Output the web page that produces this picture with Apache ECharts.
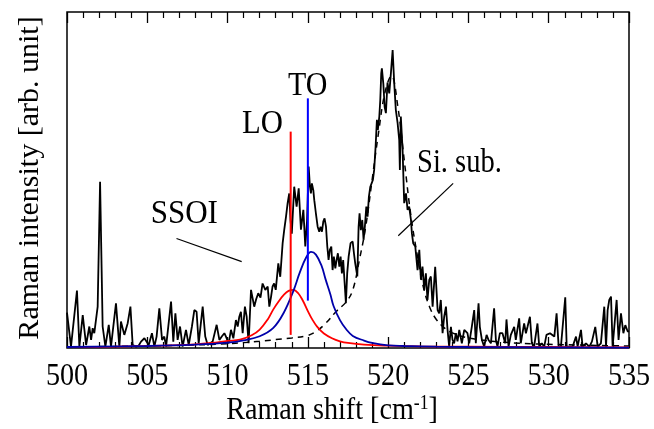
<!DOCTYPE html>
<html><head><meta charset="utf-8">
<script src="https://cdn.jsdelivr.net/npm/echarts@6/dist/echarts.min.js"></script>
<style>html,body{margin:0;padding:0;background:#fff}#c{width:654px;height:429px}</style>
</head><body><div id="c"></div>
<script>
// ---- data (Raman shift in cm^-1, intensity in arb. unit 0..100) ----
const rawSpectrum = [
[500.00,10.5],[500.04,10.8],[500.25,0.4],[500.62,17.1],[500.77,0.4],[500.98,9.8],[501.08,9.3],[501.19,0.9],
[501.39,6.4],[501.50,2.4],[501.60,5.9],[501.70,4.4],[501.91,12.3],[502.06,49.5],[502.22,6.4],[502.39,0.4],
[502.60,6.9],[502.74,0.4],[503.05,13.3],[503.26,0.4],[503.36,7.9],[503.57,3.9],[503.78,7.4],[503.95,12.3],
[504.09,0.9],[504.30,0.4],[504.45,0.6],[504.61,1.9],[504.82,2.9],[504.92,2.4],[505.09,0.9],[505.29,4.4],
[505.44,0.4],[505.58,3.4],[505.75,11.8],[505.92,2.4],[506.06,3.4],[506.17,0.4],[506.48,13.8],[506.62,1.9],
[506.75,10.3],[506.89,2.4],[507.04,6.4],[507.20,0.4],[507.41,5.4],[507.58,0.9],[507.78,6.4],[507.93,11.3],
[508.07,10.8],[508.20,1.4],[508.45,12.3],[508.61,3.4],[508.76,0.9],[509.07,1.9],[509.32,6.9],[509.49,2.4],
[509.65,3.5],[509.80,4.4],[509.90,3.4],[510.07,1.4],[510.21,5.4],[510.36,2.9],[510.52,8.3],[510.63,6.4],
[510.73,9.3],[510.83,10.8],[510.94,4.4],[511.08,12.3],[511.19,9.3],[511.31,1.4],[511.46,17.3],[511.66,12.3],
[511.78,14.5],[511.91,16.3],[512.05,15.0],[512.18,19.2],[512.35,17.3],[512.50,18.3],[512.60,12.3],[512.70,15.0],
[512.80,18.3],[512.90,19.2],[513.00,17.3],[513.16,25.2],[513.28,21.2],[513.43,31.2],[513.53,35.2],[513.64,39.1],
[513.74,43.1],[513.84,46.0],[513.92,38.0],[514.00,34.0],[514.15,48.0],[514.30,42.1],[514.43,47.5],[514.57,35.2],
[514.72,41.1],[514.84,30.2],[514.95,38.0],[515.05,54.0],[515.13,48.0],[515.19,46.0],[515.25,49.0],[515.34,47.0],
[515.40,44.0],[515.50,40.1],[515.61,36.1],[515.71,34.6],[515.79,36.1],[515.88,34.6],[515.96,37.6],[516.04,38.6],
[516.13,36.1],[516.21,30.2],[516.29,26.2],[516.37,29.2],[516.46,30.2],[516.54,23.2],[516.62,27.2],[516.71,23.7],
[516.79,26.2],[516.87,28.2],[516.96,24.2],[517.04,27.2],[517.12,22.2],[517.20,26.2],[517.29,26.2],[517.37,13.3],
[517.45,22.2],[517.54,27.2],[517.66,31.2],[517.79,31.7],[517.87,28.2],[517.95,25.2],[518.08,21.3],[518.16,36.1],
[518.22,40.1],[518.30,35.1],[518.39,38.1],[518.47,32.2],[518.55,36.1],[518.64,42.1],[518.72,39.1],[518.80,45.0],
[518.89,48.0],[518.97,49.0],[519.05,50.0],[519.13,53.0],[519.22,60.0],[519.30,67.9],[519.36,64.9],[519.45,68.9],
[519.51,73.8],[519.57,81.7],[519.61,83.2],[519.70,78.7],[519.78,71.8],[519.86,69.9],[519.96,79.0],[520.07,75.8],
[520.17,81.7],[520.28,88.7],[520.38,78.7],[520.48,70.8],[520.59,66.9],[520.69,61.9],[520.73,53.0],[520.79,68.9],
[520.90,58.9],[521.00,43.1],[521.11,46.0],[521.21,41.1],[521.31,42.1],[521.42,38.1],[521.48,34.1],[521.56,31.2],
[521.69,30.2],[521.83,23.2],[521.94,29.2],[522.04,20.3],[522.14,24.2],[522.25,17.3],[522.35,22.2],[522.45,14.3],
[522.56,20.3],[522.66,21.3],[522.77,12.3],[522.93,24.2],[523.08,11.3],[523.18,10.3],[523.28,14.3],[523.39,4.4],
[523.49,9.3],[523.60,12.3],[523.70,5.4],[523.80,0.4],[523.91,6.3],[524.01,2.4],[524.11,1.4],[524.22,4.4],
[524.32,2.0],[524.43,5.4],[524.59,1.4],[524.74,5.4],[524.84,4.9],[524.94,4.4],[525.05,1.4],[525.21,6.3],
[525.36,11.3],[525.46,1.4],[525.63,13.3],[525.71,6.3],[525.84,2.4],[525.98,0.4],[526.13,3.9],[526.25,2.4],
[526.40,1.4],[526.60,11.8],[526.71,2.4],[526.81,0.4],[526.96,4.4],[527.12,4.4],[527.29,1.4],[527.37,8.5],
[527.50,0.4],[527.64,3.9],[527.75,4.4],[527.85,6.3],[527.95,2.4],[528.16,8.8],[528.26,1.4],[528.47,7.3],
[528.58,4.4],[528.68,6.3],[528.83,9.3],[528.95,1.4],[529.09,0.4],[529.30,7.3],[529.41,0.4],[529.57,1.4],
[529.72,0.4],[529.86,3.9],[530.08,4.4],[530.20,3.9],[530.35,3.4],[530.49,10.3],[530.62,0.4],[530.76,0.4],
[530.87,0.4],[531.03,15.1],[531.12,0.4],[531.28,0.4],[531.49,0.4],[531.70,3.4],[531.80,0.4],[532.01,5.4],
[532.11,0.4],[532.32,1.4],[532.53,0.4],[532.69,1.9],[532.90,6.3],[533.05,0.4],[533.25,1.4],[533.46,12.3],
[533.57,0.4],[533.67,11.3],[533.77,14.3],[533.88,15.3],[533.98,0.4],[534.08,0.4],[534.23,14.3],[534.35,2.4],
[534.50,10.3],[534.65,4.4],[534.77,6.8],[534.92,4.9],[535.00,5.0]
];
// Si substrate component (dashed)
const siX = [500,505,508,510,511,512,513,514,514.9,515.5,516.1,516.75,517.4,517.8,518.2,518.6,519.0,519.4,519.8,520.2,520.6,521.0,521.4,521.8,522.2,522.6,523.0,523.5,524,525,527,530,535];
const siY = [0.3,0.6,0.9,1.3,1.6,2.0,2.5,3.0,3.6,4.9,7.3,10.8,13.8,17.3,26,36,50,64,76,81,72,56,40,28,18,12,8.5,6,4.5,3,1.8,1.1,0.6];
// LO fitted component (red)
const loX = [500,503,506,508,509,510,510.77,511.5,512,512.5,512.85,513.2,513.5,513.8,514.1,514.4,514.7,515.0,515.3,515.6,516.0,516.5,517.0,517.5,518.5,520,522,525,530,535];
const loY = [0.3,0.4,0.7,1.1,1.5,2.1,2.5,3.8,5.5,8.5,11.5,14.0,15.8,17.0,17.3,16.3,14.0,11.0,8.3,6.2,4.3,2.9,2.0,1.5,1.0,0.7,0.5,0.4,0.3,0.2];
// TO fitted component (blue)
const toX = [500,505,508,510,511,512,512.85,513.5,514.1,514.5,514.9,515.2,515.5,515.85,516.1,516.4,516.6,517.0,517.4,517.8,518.5,519.0,520,521,523,525,530,535];
const toY = [0.3,0.6,1.0,1.6,2.3,3.5,6.0,10.5,17.0,22.5,27.0,28.6,27.8,24.5,20.5,16.0,12.5,8.3,5.5,3.6,2.2,1.5,0.8,0.6,0.4,0.3,0.2,0.1];
// peak position markers
const loMarkX = [513.93,513.93], loMarkY = [3.9,64.4];
const toMarkX = [515.0,515.0],  toMarkY = [14.1,74.3];
// annotation pointer lines
const ssoiLineX = [506.82,510.88], ssoiLineY = [32.6,25.7];
const siLineX = [520.63,524.05],  siLineY = [33.4,49.0];
// axis
const tickValues = [500,505,510,515,520,525,530,535];
const tickLabels = ['500','505','510','515','520','525','530','535'];
const xTitle = 'Raman shift [cm';
const yTitle = 'Raman intensity [arb. unit]';

const zip = (xs, ys) => xs.map((x, i) => [x, ys[i]]);
const FONT = '"Liberation Serif", "Times New Roman", serif';

const chart = echarts.init(document.getElementById('c'), null, {renderer: 'canvas'});
const axisCommon = {
  type: 'value', min: 500, max: 535, interval: 5,
  axisLine: {show: false},
  axisTick: {show: true, inside: true, length: 11, lineStyle: {color: '#000', width: 1.3}},
  minorTick: {show: true, splitNumber: 5, length: 6, lineStyle: {color: '#000', width: 1.2}},
  splitLine: {show: false}, axisLabel: {show: false}
};
const lineS = (data, color, width, extra) => Object.assign({
  type: 'line', data, showSymbol: false, symbol: 'none', silent: true,
  lineStyle: {color, width}, itemStyle: {color}
}, extra || {});

chart.setOption({
  animation: false,
  grid: {left: 67, right: 25, top: 12, bottom: 81, show: true, borderColor: '#000', borderWidth: 1.5, containLabel: false},
  xAxis: [Object.assign({position: 'bottom'}, axisCommon), Object.assign({position: 'top'}, axisCommon)],
  yAxis: {type: 'value', min: 0, max: 100, axisLine: {show: false}, axisTick: {show: false}, axisLabel: {show: false}, splitLine: {show: false}},
  series: [
    lineS(rawSpectrum, '#000', 1.8, {z: 2}),
    lineS(zip(siX, siY), '#000', 1.5, {smooth: 0.4, z: 3, lineStyle: {color: '#000', width: 1.5, type: [6, 5]}}),
    lineS(zip(loX, loY), '#ff0000', 1.8, {smooth: 0.4, z: 4}),
    lineS(zip(toX, toY), '#0000aa', 1.8, {smooth: 0.4, z: 5}),
    lineS(zip(loMarkX, loMarkY), '#ff0000', 2, {z: 6}),
    lineS(zip(toMarkX, toMarkY), '#0000ff', 2, {z: 6}),
    lineS(zip(ssoiLineX, ssoiLineY), '#000', 1.2, {z: 6}),
    lineS(zip(siLineX, siLineY), '#000', 1.2, {z: 6})
  ]
});

// texts drawn as graphic elements (horizontally condensed like the original)
const SX = 0.88;
const g = [];
tickValues.forEach((v, i) => {
  const p = chart.convertToPixel({xAxisIndex: 0}, v);
  g.push({type: 'text', x: p, y: 377, scaleX: SX, silent: true,
    style: {text: tickLabels[i], font: '32px ' + FONT, fill: '#000', align: 'center', verticalAlign: 'middle', textAlign: 'center', textVerticalAlign: 'middle'}});
});
g.push({type: 'text', x: 332, y: 411, scaleX: SX, silent: true,
  style: {text: '{a|' + xTitle + '}{b|-1}{a|]}', fill: '#000', align: 'center', verticalAlign: 'middle', textAlign: 'center', textVerticalAlign: 'middle',
    rich: {a: {font: '32px ' + FONT, fill: '#000', lineHeight: 34}, b: {font: '20px ' + FONT, fill: '#000', verticalAlign: 'top', lineHeight: 34}}}});
g.push({type: 'text', x: 30, y: 178, rotation: Math.PI / 2, silent: true,
  style: {text: yTitle, font: '30px ' + FONT, fill: '#000', align: 'center', verticalAlign: 'middle', textAlign: 'center', textVerticalAlign: 'middle'}});
const ann = [['TO', 288, 86.5, 34, 0.88], ['LO', 242, 124, 33, 0.93], ['SSOI', 150.7, 214, 33, 0.94], ['Si. sub.', 417, 163.5, 34, 0.84]];
ann.forEach(a => g.push({type: 'text', x: a[1], y: a[2], scaleX: a[4], silent: true,
  style: {text: a[0], font: a[3] + 'px ' + FONT, fill: '#000', align: 'left', verticalAlign: 'middle', textAlign: 'left', textVerticalAlign: 'middle'}}));
chart.setOption({graphic: g});
</script></body></html>
